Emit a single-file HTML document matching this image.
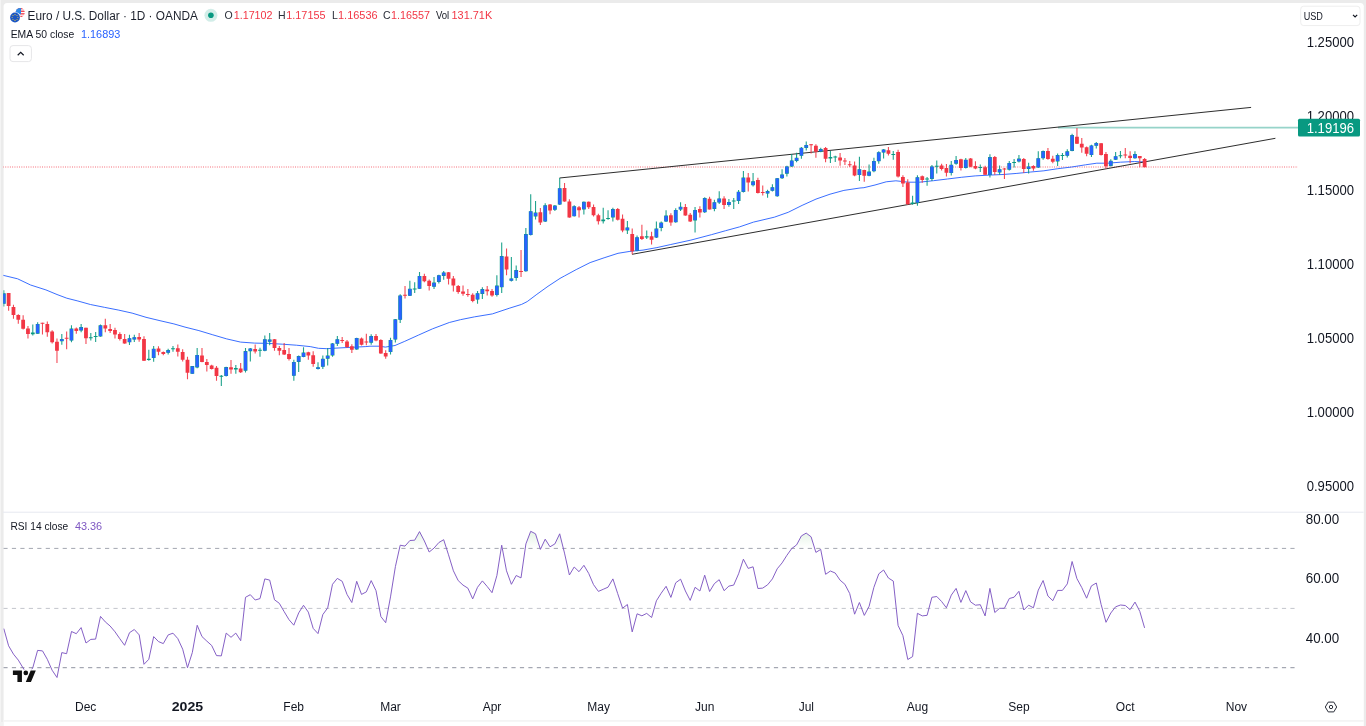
<!DOCTYPE html><html><head><meta charset="utf-8"><title>EURUSD chart</title>
<style>html,body{margin:0;padding:0;background:#ebebeb;overflow:hidden}svg{display:block}text{font-family:"Liberation Sans", Arial, sans-serif}</style>
</head><body>
<svg width="1366" height="726" viewBox="0 0 1366 726">
<rect width="1366" height="726" fill="#ebebeb"/>
<rect x="0" y="0" width="1" height="726" fill="#f4f4f4"/>
<rect x="0" y="722" width="3.6" height="4" fill="#f2f2f2"/>
<path d="M3.6 726V6.5a3.5 3.5 0 0 1 3.5-3.5H1360.3a3.5 3.5 0 0 1 3.5 3.5V726Z" fill="#fff"/>
<rect x="3.6" y="720" width="1360.2" height="1.8" fill="#f4f4f4"/>
<rect x="3" y="511.7" width="1360.5" height="1" fill="#e6e8f0"/>
<clipPath id="cp"><rect x="3.3" y="3" width="1295" height="700"/></clipPath>
<g clip-path="url(#cp)">
<line x1="3" y1="167" x2="1298" y2="167" stroke="#f23645" stroke-width="1" stroke-dasharray=".9 1.4" opacity=".8"/>
<line x1="1058" y1="127.7" x2="1298" y2="127.7" stroke="#089981" stroke-width="1.7" opacity=".42"/>
<polyline fill="none" stroke="#2962ff" stroke-width="1" opacity=".92" stroke-linejoin="round" points="3.1,275.3 17.6,278.8 30.6,285.0 45.9,289.9 57.0,294.5 66.8,298.2 77.9,301.0 90.4,304.5 104.3,307.3 118.2,310.0 132.1,313.1 146.0,317.3 160.0,320.7 173.9,323.9 185.0,327.1 198.9,330.6 212.8,334.8 226.7,338.9 240.6,342.1 254.5,343.1 268.5,343.4 282.4,344.2 296.3,345.2 310.2,346.6 318.5,348.3 326.9,348.7 338.0,348.0 351.9,347.3 365.8,346.6 370.0,346.2 379.7,346.2 385.3,347.1 395.0,345.5 404.8,341.3 418.7,335.0 432.6,328.8 449.3,322.5 460.4,319.7 474.3,316.9 492.4,313.9 509.1,308.3 521.6,304.4 527.2,301.6 536.9,294.3 548.0,286.3 560.0,278.4 564.4,276.0 576.2,269.6 590.1,262.6 604.1,257.8 618.0,253.3 629.1,251.5 643.0,250.1 656.9,247.6 670.8,244.5 690.9,240.1 711.7,234.6 725.6,230.7 739.5,226.9 753.5,222.1 774.3,217.2 788.2,212.3 802.1,205.4 816.0,199.1 830.0,194.2 843.9,190.4 860.0,188.0 863.9,187.7 875.0,185.0 886.2,181.8 895.9,180.8 908.4,182.2 919.5,182.2 933.5,180.7 947.4,179.0 961.3,177.3 975.2,175.9 989.1,175.1 1003.0,174.5 1016.9,173.4 1030.8,172.0 1043.9,170.8 1057.8,168.7 1071.7,167.0 1085.6,164.8 1096.8,163.2 1107.9,163.2 1120.4,162.2 1134.3,161.5 1144.6,162.0"/>
<line x1="559.5" y1="178" x2="1251.1" y2="107.4" stroke="#1a1a1a" stroke-width=".92"/>
<line x1="632.1" y1="254.3" x2="1275.4" y2="138.3" stroke="#1a1a1a" stroke-width=".92"/>
<path d="M8.63 293.1V310.7M13.47 304.8V318.8M18.30 314.2V323.7M23.14 315.3V329.5M27.97 326.0V338.6M42.47 322.8V334.4M47.31 321.4V336.7M52.14 330.2V343.4M56.97 338.6V362.9M66.64 331.6V349.3M76.31 327.4V333.7M85.98 327.8V344.1M105.31 318.8V332.3M110.15 323.9V333.0M114.98 327.8V338.6M119.82 332.3V340.6M124.65 334.0V343.7M139.15 333.0V341.7M143.99 336.2V361.1M158.49 346.2V355.2M163.32 351.5V355.2M177.82 344.5V356.6M182.66 349.3V361.5M187.49 356.7V379.3M201.99 348.0V362.3M206.83 359.1V371.6M211.66 364.7V369.5M216.50 366.1V380.7M231.00 360.1V373.7M240.67 362.9V373.0M255.17 344.5V353.6M274.50 338.9V350.8M279.34 345.9V355.2M284.17 343.1V354.9M289.01 348.0V360.5M308.34 351.7V359.8M313.18 351.2V366.8M342.18 336.9V343.1M347.01 340.1V348.0M351.85 344.2V352.9M361.52 337.6V345.6M366.35 333.8V345.2M376.02 334.0V341.3M380.85 339.2V353.8M385.69 350.3V358.7M405.02 285.9V298.4M424.36 273.8V282.2M429.19 279.4V290.5M448.53 272.0V284.5M453.36 275.9V291.5M458.20 285.0V293.7M463.03 285.4V295.8M467.86 289.1V296.8M472.70 293.3V302.3M487.20 285.9V295.4M492.03 289.1V296.8M506.54 248.4V275.2M521.04 250.1V277.0M540.37 208.1V225.1M550.04 203.9V214.2M564.54 183.1V201.7M569.38 199.3V217.8M579.05 205.9V217.4M588.71 201.4V209.1M593.55 204.6V216.4M598.38 213.7V224.4M617.72 208.0V220.6M622.55 214.6V232.3M632.22 228.6V254.3M641.89 224.8V240.1M651.56 231.7V244.5M670.89 213.3V225.8M685.39 204.0V215.8M690.23 213.0V222.1M699.90 206.3V217.6M709.56 196.7V209.5M724.07 196.3V208.9M748.24 173.0V191.5M757.90 177.8V193.6M762.74 185.5V195.6M811.08 143.9V153.5M815.91 144.2V157.8M825.58 147.0V162.3M840.08 152.9V165.7M844.92 158.1V165.0M849.75 160.9V167.1M854.58 161.6V176.2M864.25 169.7V181.8M888.42 147.0V155.6M898.09 149.8V177.6M902.92 175.2V187.0M907.76 179.3V204.7M922.26 175.5V182.7M941.60 163.7V170.6M946.43 164.0V176.5M960.93 158.8V170.6M970.60 158.1V167.2M975.43 161.3V169.2M985.10 165.8V175.1M994.77 156.0V174.8M1004.44 167.9V179.0M1023.77 158.1V173.1M1033.44 165.2V170.8M1047.94 147.9V159.7M1052.78 155.8V163.2M1076.95 128.0V144.0M1081.78 138.1V152.7M1086.62 146.5V156.2M1101.12 143.0V155.5M1105.95 152.0V168.7M1125.29 147.9V158.3M1130.12 151.3V163.2M1139.79 155.9V167.3M1144.62 158.0V167.3" stroke="#f23645" stroke-width="1.1" fill="none" opacity=".9"/>
<path d="M3.80 290.3V306.6M32.80 324.6V335.4M37.64 322.3V333.7M61.81 334.0V344.8M71.48 325.3V342.3M81.14 323.9V332.3M90.81 333.0V340.6M95.65 331.9V342.0M100.48 324.6V336.7M129.48 334.8V345.1M134.32 334.7V342.0M148.82 349.7V360.8M153.65 345.9V361.8M168.16 348.7V354.5M172.99 345.9V351.8M192.33 366.1V373.7M197.16 348.0V368.2M221.33 375.1V386.0M226.16 366.8V376.5M235.83 365.1V373.7M245.50 348.0V372.6M250.33 348.0V361.5M260.00 347.7V356.7M264.84 335.5V351.2M269.67 333.1V345.2M293.84 359.8V380.7M298.67 355.4V372.0M303.51 347.3V357.3M318.01 362.3V369.5M322.84 355.4V368.9M327.68 348.0V365.4M332.51 343.1V356.7M337.35 335.9V345.9M356.68 337.8V349.8M371.18 334.3V344.8M390.52 337.8V354.5M395.35 319.0V342.4M400.19 294.3V322.9M409.86 280.8V296.1M414.69 282.2V292.9M419.52 272.0V289.1M434.03 277.0V289.1M438.86 274.8V283.6M443.69 271.0V279.8M477.53 290.9V303.7M482.37 287.3V298.9M496.87 275.2V296.5M501.70 242.5V292.9M511.37 257.0V281.5M516.20 265.4V280.8M525.87 228.1V271.7M530.71 194.2V235.5M535.54 201.1V219.5M545.21 203.2V222.0M554.88 204.9V210.9M559.71 178.1V204.9M574.21 205.3V216.4M583.88 201.4V214.6M603.22 207.7V223.4M608.05 210.2V219.8M612.88 207.7V221.6M627.39 220.9V234.1M637.05 235.5V251.2M646.72 230.4V239.0M656.39 221.6V237.9M661.22 221.6V231.3M666.06 210.2V222.0M675.73 208.2V222.8M680.56 202.2V210.9M695.06 207.0V232.5M704.73 197.3V213.0M714.40 199.8V211.2M719.23 191.2V204.0M728.90 199.1V206.8M733.73 198.1V208.9M738.57 190.1V204.0M743.40 170.9V192.6M753.07 173.0V186.6M767.57 189.8V197.7M772.41 184.2V191.5M777.24 178.0V196.7M782.07 169.2V178.9M786.91 165.7V176.4M791.74 153.9V167.1M796.58 152.8V162.3M801.41 147.0V158.8M806.24 141.4V150.4M820.75 147.7V152.2M830.41 151.1V163.0M835.25 155.7V162.0M859.42 156.7V181.1M869.09 164.4V176.2M873.92 157.8V172.3M878.75 151.2V163.7M883.59 149.1V158.4M893.26 150.9V159.8M912.59 195.7V204.7M917.43 175.2V205.7M927.09 176.9V185.7M931.93 165.1V181.1M936.76 160.6V173.4M951.26 160.9V175.5M956.10 156.0V164.7M965.77 158.1V168.6M980.27 164.4V172.0M989.94 154.2V177.6M999.60 165.4V174.8M1009.27 160.9V170.6M1014.11 159.1V167.6M1018.94 155.1V162.6M1028.61 162.7V173.4M1038.28 151.3V168.0M1043.11 150.6V159.7M1057.61 153.4V165.9M1062.45 153.1V160.1M1067.28 149.2V157.6M1072.11 133.7V151.3M1091.45 144.8V156.9M1096.28 141.9V148.6M1110.79 159.3V166.6M1115.62 152.0V160.1M1120.45 150.9V158.3M1134.96 151.3V158.7" stroke="#089981" stroke-width="1.1" fill="none" opacity=".9"/>
<path d="M6.73 293.1h3.8V305.9h-3.8ZM11.57 307.0h3.8V314.9h-3.8ZM16.40 314.9h3.8V319.8h-3.8ZM21.24 319.8h3.8V328.8h-3.8ZM26.07 328.5h3.8V334.0h-3.8ZM40.57 322.8h3.8V323.8h-3.8ZM45.41 323.9h3.8V332.3h-3.8ZM50.24 331.6h3.8V342.3h-3.8ZM55.07 341.7h3.8V350.7h-3.8ZM64.74 337.8h3.8V338.8h-3.8ZM74.41 328.4h3.8V330.9h-3.8ZM84.08 327.8h3.8V338.3h-3.8ZM103.41 325.3h3.8V328.4h-3.8ZM108.25 329.1h3.8V330.9h-3.8ZM113.08 329.9h3.8V334.4h-3.8ZM117.92 334.0h3.8V339.0h-3.8ZM122.75 339.0h3.8V343.4h-3.8ZM137.25 336.9h3.8V339.5h-3.8ZM142.09 339.0h3.8V360.8h-3.8ZM156.59 348.6h3.8V351.8h-3.8ZM161.42 352.0h3.8V353.9h-3.8ZM175.92 348.3h3.8V351.8h-3.8ZM180.76 352.0h3.8V359.8h-3.8ZM185.59 359.8h3.8V372.7h-3.8ZM200.09 355.4h3.8V361.9h-3.8ZM204.93 361.9h3.8V365.1h-3.8ZM209.76 365.4h3.8V368.9h-3.8ZM214.60 367.7h3.8V376.1h-3.8ZM229.10 367.2h3.8V369.5h-3.8ZM238.77 368.4h3.8V372.3h-3.8ZM253.27 349.0h3.8V351.5h-3.8ZM272.60 339.2h3.8V348.0h-3.8ZM277.44 348.0h3.8V350.8h-3.8ZM282.27 350.1h3.8V354.5h-3.8ZM287.11 354.0h3.8V359.1h-3.8ZM306.44 352.2h3.8V355.6h-3.8ZM311.28 355.2h3.8V364.0h-3.8ZM340.28 340.0h3.8V341.0h-3.8ZM345.11 341.4h3.8V347.0h-3.8ZM349.95 346.3h3.8V349.8h-3.8ZM359.62 338.5h3.8V344.8h-3.8ZM364.45 341.6h3.8V342.6h-3.8ZM374.12 336.0h3.8V340.6h-3.8ZM378.95 339.9h3.8V353.5h-3.8ZM383.79 353.1h3.8V356.6h-3.8ZM403.12 294.7h3.8V295.8h-3.8ZM422.46 275.9h3.8V281.2h-3.8ZM427.29 280.8h3.8V285.9h-3.8ZM446.63 272.2h3.8V278.7h-3.8ZM451.46 278.4h3.8V285.6h-3.8ZM456.30 285.9h3.8V291.9h-3.8ZM461.13 291.6h3.8V293.7h-3.8ZM465.96 294.0h3.8V295.1h-3.8ZM470.80 294.7h3.8V300.9h-3.8ZM485.30 289.5h3.8V291.2h-3.8ZM490.13 290.9h3.8V295.4h-3.8ZM504.64 256.4h3.8V269.6h-3.8ZM519.14 271.0h3.8V272.0h-3.8ZM538.47 212.3h3.8V222.6h-3.8ZM548.14 204.6h3.8V210.5h-3.8ZM562.64 187.9h3.8V201.4h-3.8ZM567.48 201.4h3.8V217.4h-3.8ZM577.15 207.3h3.8V210.2h-3.8ZM586.81 201.8h3.8V207.3h-3.8ZM591.65 207.0h3.8V215.3h-3.8ZM596.48 215.3h3.8V221.3h-3.8ZM615.82 209.1h3.8V219.8h-3.8ZM620.65 218.8h3.8V230.6h-3.8ZM630.32 234.1h3.8V251.2h-3.8ZM639.99 236.2h3.8V239.0h-3.8ZM649.66 236.2h3.8V239.7h-3.8ZM668.99 215.3h3.8V222.6h-3.8ZM683.49 207.0h3.8V215.5h-3.8ZM688.33 214.8h3.8V221.4h-3.8ZM698.00 209.1h3.8V212.6h-3.8ZM707.66 198.8h3.8V209.5h-3.8ZM722.17 198.4h3.8V205.1h-3.8ZM746.34 177.6h3.8V182.4h-3.8ZM756.00 180.1h3.8V192.9h-3.8ZM760.84 191.9h3.8V192.9h-3.8ZM809.18 144.3h3.8V145.3h-3.8ZM814.01 145.8h3.8V151.8h-3.8ZM823.68 147.9h3.8V158.8h-3.8ZM838.18 157.4h3.8V160.4h-3.8ZM843.02 160.6h3.8V161.6h-3.8ZM847.85 164.3h3.8V165.3h-3.8ZM852.68 165.4h3.8V175.5h-3.8ZM862.35 169.9h3.8V175.8h-3.8ZM886.52 150.2h3.8V153.7h-3.8ZM896.19 151.9h3.8V176.6h-3.8ZM901.02 176.9h3.8V183.4h-3.8ZM905.86 182.5h3.8V204.3h-3.8ZM920.36 176.2h3.8V180.1h-3.8ZM939.70 165.4h3.8V169.0h-3.8ZM944.53 167.9h3.8V172.7h-3.8ZM959.03 159.2h3.8V168.1h-3.8ZM968.70 158.4h3.8V166.7h-3.8ZM973.53 166.0h3.8V168.6h-3.8ZM983.20 167.2h3.8V174.8h-3.8ZM992.87 157.0h3.8V172.0h-3.8ZM1002.54 168.5h3.8V169.5h-3.8ZM1021.87 159.1h3.8V169.0h-3.8ZM1031.54 165.9h3.8V168.4h-3.8ZM1046.04 151.1h3.8V159.0h-3.8ZM1050.88 158.7h3.8V161.8h-3.8ZM1075.05 136.7h3.8V143.7h-3.8ZM1079.88 143.7h3.8V147.6h-3.8ZM1084.72 147.2h3.8V153.7h-3.8ZM1099.22 143.3h3.8V155.1h-3.8ZM1104.05 154.1h3.8V166.2h-3.8ZM1123.39 154.4h3.8V155.4h-3.8ZM1128.22 155.8h3.8V157.9h-3.8ZM1137.89 155.9h3.8V158.3h-3.8ZM1142.72 159.0h3.8V167.3h-3.8Z" fill="#f23645"/>
<path d="M1.90 293.3h3.8V303.8h-3.8ZM30.90 332.6h3.8V334.2h-3.8ZM35.74 323.9h3.8V333.7h-3.8ZM59.91 339.0h3.8V341.3h-3.8ZM69.58 328.5h3.8V340.6h-3.8ZM79.24 327.0h3.8V330.6h-3.8ZM88.91 337.2h3.8V338.3h-3.8ZM93.75 336.1h3.8V337.1h-3.8ZM98.58 325.3h3.8V336.5h-3.8ZM127.58 338.3h3.8V342.3h-3.8ZM132.42 337.2h3.8V339.5h-3.8ZM146.92 358.7h3.8V360.1h-3.8ZM151.75 348.7h3.8V358.0h-3.8ZM166.26 350.1h3.8V352.7h-3.8ZM171.09 348.3h3.8V349.3h-3.8ZM190.43 366.1h3.8V373.7h-3.8ZM195.26 354.9h3.8V367.5h-3.8ZM219.43 375.8h3.8V376.8h-3.8ZM224.26 367.0h3.8V376.1h-3.8ZM233.93 367.9h3.8V369.5h-3.8ZM243.60 351.0h3.8V370.7h-3.8ZM248.43 348.4h3.8V351.2h-3.8ZM258.10 349.7h3.8V350.7h-3.8ZM262.94 339.2h3.8V350.8h-3.8ZM267.77 339.4h3.8V341.7h-3.8ZM291.94 361.9h3.8V375.8h-3.8ZM296.77 356.1h3.8V361.9h-3.8ZM301.61 352.6h3.8V357.0h-3.8ZM316.11 367.2h3.8V369.1h-3.8ZM320.94 358.7h3.8V366.8h-3.8ZM325.78 355.6h3.8V358.7h-3.8ZM330.61 343.4h3.8V355.4h-3.8ZM335.45 339.2h3.8V343.8h-3.8ZM354.78 338.0h3.8V349.4h-3.8ZM369.28 336.1h3.8V342.7h-3.8ZM388.62 339.9h3.8V352.1h-3.8ZM393.45 319.3h3.8V339.6h-3.8ZM398.29 295.4h3.8V319.7h-3.8ZM407.96 288.7h3.8V295.8h-3.8ZM412.79 288.4h3.8V289.4h-3.8ZM417.62 275.9h3.8V288.7h-3.8ZM432.13 282.6h3.8V286.8h-3.8ZM436.96 275.2h3.8V281.9h-3.8ZM441.79 272.4h3.8V275.9h-3.8ZM475.63 293.3h3.8V299.6h-3.8ZM480.47 289.1h3.8V294.0h-3.8ZM494.97 285.6h3.8V295.1h-3.8ZM499.80 256.0h3.8V287.3h-3.8ZM509.47 278.4h3.8V280.8h-3.8ZM514.30 270.0h3.8V278.0h-3.8ZM523.97 234.1h3.8V271.3h-3.8ZM528.81 211.2h3.8V235.1h-3.8ZM533.64 212.6h3.8V216.4h-3.8ZM543.31 205.3h3.8V221.6h-3.8ZM552.98 205.6h3.8V209.8h-3.8ZM557.81 188.2h3.8V204.6h-3.8ZM572.31 206.3h3.8V216.3h-3.8ZM581.98 201.8h3.8V209.4h-3.8ZM601.32 219.5h3.8V221.2h-3.8ZM606.15 218.0h3.8V219.0h-3.8ZM610.98 209.1h3.8V217.4h-3.8ZM625.49 227.4h3.8V230.4h-3.8ZM635.15 237.2h3.8V250.8h-3.8ZM644.82 236.2h3.8V237.6h-3.8ZM654.49 228.6h3.8V237.6h-3.8ZM659.32 222.6h3.8V227.9h-3.8ZM664.16 215.6h3.8V221.6h-3.8ZM673.83 210.0h3.8V222.3h-3.8ZM678.66 206.8h3.8V209.5h-3.8ZM693.16 210.0h3.8V220.4h-3.8ZM702.83 198.1h3.8V212.3h-3.8ZM712.50 202.2h3.8V208.9h-3.8ZM717.33 198.4h3.8V202.6h-3.8ZM727.00 201.9h3.8V205.1h-3.8ZM731.83 200.4h3.8V201.4h-3.8ZM736.67 191.7h3.8V200.9h-3.8ZM741.50 177.6h3.8V191.9h-3.8ZM751.17 181.3h3.8V185.2h-3.8ZM765.67 191.0h3.8V193.6h-3.8ZM770.51 187.3h3.8V190.8h-3.8ZM775.34 178.3h3.8V196.3h-3.8ZM780.17 174.4h3.8V178.3h-3.8ZM785.01 166.4h3.8V173.7h-3.8ZM789.84 160.4h3.8V166.4h-3.8ZM794.68 157.7h3.8V160.9h-3.8ZM799.51 147.7h3.8V155.7h-3.8ZM804.34 144.9h3.8V147.9h-3.8ZM818.85 149.0h3.8V151.5h-3.8ZM828.51 157.1h3.8V158.5h-3.8ZM833.35 156.5h3.8V157.5h-3.8ZM857.52 169.2h3.8V175.1h-3.8ZM867.19 171.6h3.8V175.8h-3.8ZM872.02 160.9h3.8V171.3h-3.8ZM876.85 152.3h3.8V161.3h-3.8ZM881.69 149.4h3.8V152.6h-3.8ZM891.36 153.9h3.8V154.9h-3.8ZM910.69 202.6h3.8V204.0h-3.8ZM915.53 177.2h3.8V202.9h-3.8ZM925.19 178.5h3.8V179.5h-3.8ZM930.03 166.5h3.8V179.0h-3.8ZM934.86 165.8h3.8V166.8h-3.8ZM949.36 164.7h3.8V173.0h-3.8ZM954.20 159.9h3.8V163.7h-3.8ZM963.87 159.8h3.8V167.9h-3.8ZM978.37 167.1h3.8V168.1h-3.8ZM988.04 157.1h3.8V175.1h-3.8ZM997.70 169.2h3.8V172.4h-3.8ZM1007.37 163.0h3.8V169.7h-3.8ZM1012.21 161.9h3.8V162.9h-3.8ZM1017.04 158.5h3.8V161.6h-3.8ZM1026.71 166.5h3.8V169.0h-3.8ZM1036.38 158.3h3.8V167.6h-3.8ZM1041.21 151.1h3.8V158.3h-3.8ZM1055.71 155.1h3.8V161.5h-3.8ZM1060.55 155.1h3.8V156.1h-3.8ZM1065.38 151.3h3.8V155.8h-3.8ZM1070.21 135.1h3.8V150.9h-3.8ZM1089.55 145.4h3.8V155.1h-3.8ZM1094.38 143.0h3.8V145.8h-3.8ZM1108.89 160.8h3.8V165.9h-3.8ZM1113.72 156.2h3.8V159.7h-3.8ZM1118.55 155.2h3.8V156.3h-3.8ZM1133.06 154.1h3.8V158.3h-3.8Z" fill="#089981"/>
<path d="M2.25 293.7h3.1V303.4h-3.1ZM36.09 324.3h3.1V333.3h-3.1ZM60.26 339.3h3.1V341.0h-3.1ZM69.93 328.9h3.1V340.3h-3.1ZM79.59 327.4h3.1V330.3h-3.1ZM98.93 325.7h3.1V336.1h-3.1ZM127.93 338.6h3.1V342.0h-3.1ZM132.77 337.5h3.1V339.2h-3.1ZM152.10 349.1h3.1V357.7h-3.1ZM166.61 350.4h3.1V352.4h-3.1ZM190.78 366.4h3.1V373.4h-3.1ZM195.61 355.3h3.1V367.1h-3.1ZM224.61 367.4h3.1V375.7h-3.1ZM243.95 351.4h3.1V370.3h-3.1ZM248.78 348.8h3.1V350.8h-3.1ZM263.29 339.6h3.1V350.4h-3.1ZM268.12 339.7h3.1V341.4h-3.1ZM292.29 362.2h3.1V375.5h-3.1ZM297.12 356.4h3.1V361.5h-3.1ZM301.96 352.9h3.1V356.7h-3.1ZM316.46 367.5h3.1V368.8h-3.1ZM321.29 359.0h3.1V366.4h-3.1ZM326.13 356.0h3.1V358.3h-3.1ZM330.96 343.7h3.1V355.0h-3.1ZM335.80 339.6h3.1V343.5h-3.1ZM355.13 338.3h3.1V349.0h-3.1ZM369.63 336.5h3.1V342.3h-3.1ZM388.97 340.2h3.1V351.8h-3.1ZM393.80 319.7h3.1V339.3h-3.1ZM398.64 295.7h3.1V319.4h-3.1ZM408.31 289.1h3.1V295.4h-3.1ZM417.97 276.3h3.1V288.4h-3.1ZM432.48 282.9h3.1V286.4h-3.1ZM437.31 275.6h3.1V281.5h-3.1ZM442.14 272.8h3.1V275.6h-3.1ZM475.98 293.6h3.1V299.2h-3.1ZM480.82 289.5h3.1V293.6h-3.1ZM495.32 286.0h3.1V294.8h-3.1ZM500.15 256.4h3.1V286.9h-3.1ZM509.82 278.8h3.1V280.4h-3.1ZM514.65 270.4h3.1V277.6h-3.1ZM524.32 234.5h3.1V270.9h-3.1ZM529.16 211.5h3.1V234.7h-3.1ZM533.99 212.9h3.1V216.1h-3.1ZM543.66 205.7h3.1V221.2h-3.1ZM553.33 206.0h3.1V209.4h-3.1ZM558.16 188.6h3.1V204.3h-3.1ZM572.66 206.6h3.1V216.0h-3.1ZM582.33 202.2h3.1V209.0h-3.1ZM611.33 209.4h3.1V217.1h-3.1ZM625.84 227.8h3.1V230.0h-3.1ZM635.50 237.5h3.1V250.5h-3.1ZM654.84 228.9h3.1V237.2h-3.1ZM659.67 222.9h3.1V227.5h-3.1ZM664.51 216.0h3.1V221.2h-3.1ZM674.18 210.3h3.1V222.0h-3.1ZM679.01 207.1h3.1V209.2h-3.1ZM693.51 210.3h3.1V220.0h-3.1ZM703.18 198.5h3.1V212.0h-3.1ZM712.85 202.5h3.1V208.5h-3.1ZM717.68 198.8h3.1V202.2h-3.1ZM727.35 202.2h3.1V204.7h-3.1ZM737.02 192.1h3.1V200.6h-3.1ZM741.85 177.9h3.1V191.5h-3.1ZM751.52 181.7h3.1V184.9h-3.1ZM766.02 191.4h3.1V193.2h-3.1ZM770.86 187.6h3.1V190.4h-3.1ZM775.69 178.6h3.1V196.0h-3.1ZM780.52 174.7h3.1V177.9h-3.1ZM785.36 166.8h3.1V173.3h-3.1ZM790.19 160.8h3.1V166.1h-3.1ZM795.03 158.0h3.1V160.5h-3.1ZM799.86 148.0h3.1V155.4h-3.1ZM804.69 145.2h3.1V147.6h-3.1ZM819.20 149.4h3.1V151.2h-3.1ZM857.87 169.6h3.1V174.7h-3.1ZM867.54 172.0h3.1V175.4h-3.1ZM872.37 161.3h3.1V171.0h-3.1ZM877.20 152.6h3.1V161.0h-3.1ZM882.04 149.7h3.1V152.2h-3.1ZM915.88 177.5h3.1V202.6h-3.1ZM930.38 166.8h3.1V178.6h-3.1ZM949.71 165.0h3.1V172.7h-3.1ZM954.55 160.3h3.1V163.3h-3.1ZM964.22 160.1h3.1V167.5h-3.1ZM988.39 157.5h3.1V174.7h-3.1ZM998.05 169.6h3.1V172.1h-3.1ZM1007.72 163.3h3.1V169.3h-3.1ZM1017.39 158.9h3.1V161.2h-3.1ZM1027.06 166.8h3.1V168.6h-3.1ZM1036.73 158.6h3.1V167.3h-3.1ZM1041.56 151.4h3.1V157.9h-3.1ZM1056.06 155.4h3.1V161.1h-3.1ZM1065.73 151.7h3.1V155.4h-3.1ZM1070.56 135.4h3.1V150.6h-3.1ZM1089.90 145.7h3.1V154.7h-3.1ZM1094.73 143.3h3.1V145.4h-3.1ZM1109.24 161.1h3.1V165.6h-3.1ZM1114.07 156.6h3.1V159.3h-3.1ZM1133.41 154.5h3.1V157.9h-3.1Z" fill="#2962ff"/>
<line x1="3.4" y1="548.4" x2="1295" y2="548.4" stroke="#a3a6b0" stroke-width="1" stroke-dasharray="4.2 4.267"/>
<line x1="3.4" y1="608.4" x2="1295" y2="608.4" stroke="#c3c5cc" stroke-width="1" stroke-dasharray="4.2 4.267"/>
<line x1="3.4" y1="667.7" x2="1295" y2="667.7" stroke="#8f93a0" stroke-width="1" stroke-dasharray="4.2 4.267"/>
<clipPath id="ob"><rect x="0" y="512" width="1298" height="36.4"/></clipPath>
<linearGradient id="og" x1="0" y1="525" x2="0" y2="548.4" gradientUnits="userSpaceOnUse"><stop offset="0" stop-color="#4caf50" stop-opacity=".2"/><stop offset="1" stop-color="#4caf50" stop-opacity="0"/></linearGradient>
<polygon clip-path="url(#ob)" fill="url(#og)" points="3.8,628.6 8.6,645.8 13.5,654.2 18.3,660.1 23.1,668.0 28.0,674.9 32.8,667.7 37.6,650.4 42.5,650.9 47.3,659.3 52.1,670.2 57.0,677.5 61.8,652.6 66.6,653.7 71.5,631.5 76.3,633.7 81.1,627.6 86.0,643.0 90.8,639.4 95.6,639.1 100.5,616.4 105.3,621.9 110.1,626.0 115.0,631.8 119.8,638.7 124.6,645.3 129.5,632.7 134.3,629.5 139.2,634.9 144.0,664.3 148.8,659.3 153.7,636.6 158.5,641.6 163.3,643.6 168.2,634.9 173.0,633.2 177.8,638.6 182.7,649.2 187.5,667.7 192.3,652.6 197.2,625.3 202.0,636.6 206.8,641.1 211.7,645.5 216.5,655.6 221.3,655.9 226.2,633.1 231.0,637.3 235.8,633.1 240.7,640.7 245.5,597.3 250.3,594.7 255.2,600.0 260.0,598.6 264.8,578.9 269.7,580.1 274.5,599.8 279.3,603.3 284.2,611.7 289.0,619.7 293.8,625.2 298.7,612.9 303.5,605.3 308.3,612.1 313.2,628.4 318.0,633.6 322.8,614.6 327.7,607.9 332.5,584.3 337.3,578.4 342.2,581.3 347.0,594.4 351.8,602.5 356.7,581.3 361.5,594.4 366.3,591.9 371.2,580.6 376.0,590.7 380.9,616.6 385.7,622.7 390.5,596.9 395.4,566.6 400.2,545.2 405.0,546.1 409.9,540.5 414.7,540.2 419.5,531.6 424.4,541.0 429.2,552.0 434.0,548.1 438.9,542.5 443.7,539.7 448.5,554.8 453.4,570.8 458.2,580.6 463.0,585.1 467.9,588.2 472.7,598.9 477.5,587.3 482.4,580.9 487.2,586.5 492.0,592.7 496.9,575.5 501.7,545.2 506.5,570.8 511.4,584.3 516.2,575.5 521.0,577.9 525.9,543.9 530.7,531.3 535.5,533.8 540.4,549.4 545.2,539.2 550.0,546.8 554.9,543.9 559.7,533.8 564.5,553.1 569.4,575.0 574.2,567.0 579.0,571.7 583.9,565.3 588.7,573.4 593.5,584.6 598.4,591.4 603.2,589.3 608.0,587.2 612.9,578.9 617.7,593.6 622.6,608.2 627.4,604.5 632.2,631.9 637.1,613.8 641.9,615.8 646.7,613.4 651.6,617.5 656.4,600.8 661.2,593.2 666.1,586.3 670.9,597.4 675.7,582.8 680.6,579.2 685.4,591.0 690.2,600.4 695.1,587.3 699.9,591.0 704.7,575.2 709.6,591.5 714.4,583.6 719.2,579.7 724.1,590.7 728.9,586.1 733.7,585.1 738.6,573.8 743.4,559.2 748.2,568.4 753.1,566.8 757.9,588.5 762.7,588.1 767.6,584.8 772.4,578.9 777.2,568.8 782.1,562.9 786.9,555.3 791.7,548.6 796.6,544.9 801.4,535.9 806.2,533.1 811.1,536.8 815.9,552.4 820.7,549.4 825.6,574.3 830.4,571.0 835.2,573.0 840.1,580.2 844.9,584.3 849.7,593.5 854.6,614.2 859.4,602.5 864.3,615.4 869.1,606.3 873.9,587.3 878.8,573.8 883.6,570.0 888.4,578.0 893.3,581.1 898.1,625.5 902.9,635.6 907.8,659.5 912.6,656.6 917.4,613.3 922.3,615.9 927.1,615.3 931.9,597.3 936.8,596.5 941.6,601.5 946.4,607.8 951.3,595.1 956.1,588.4 960.9,602.4 965.8,590.6 970.6,601.9 975.4,605.2 980.3,604.7 985.1,615.9 989.9,588.4 994.8,612.5 999.6,608.3 1004.4,608.3 1009.3,598.5 1014.1,597.2 1018.9,591.3 1023.8,610.0 1028.6,605.2 1033.4,607.8 1038.3,590.1 1043.1,580.5 1047.9,596.0 1052.8,600.7 1057.6,590.4 1062.4,590.4 1067.3,583.9 1072.1,561.5 1076.9,578.6 1081.8,587.6 1086.6,598.2 1091.4,585.9 1096.3,583.0 1101.1,604.4 1106.0,622.3 1110.8,613.0 1115.6,606.8 1120.5,605.0 1125.3,605.5 1130.1,609.7 1135.0,602.1 1139.8,611.4 1144.6,627.9 1144.6,548.4 3.8,548.4"/>
<polyline fill="none" stroke="#7e57c2" stroke-width=".95" stroke-linejoin="round" points="3.8,628.6 8.6,645.8 13.5,654.2 18.3,660.1 23.1,668.0 28.0,674.9 32.8,667.7 37.6,650.4 42.5,650.9 47.3,659.3 52.1,670.2 57.0,677.5 61.8,652.6 66.6,653.7 71.5,631.5 76.3,633.7 81.1,627.6 86.0,643.0 90.8,639.4 95.6,639.1 100.5,616.4 105.3,621.9 110.1,626.0 115.0,631.8 119.8,638.7 124.6,645.3 129.5,632.7 134.3,629.5 139.2,634.9 144.0,664.3 148.8,659.3 153.7,636.6 158.5,641.6 163.3,643.6 168.2,634.9 173.0,633.2 177.8,638.6 182.7,649.2 187.5,667.7 192.3,652.6 197.2,625.3 202.0,636.6 206.8,641.1 211.7,645.5 216.5,655.6 221.3,655.9 226.2,633.1 231.0,637.3 235.8,633.1 240.7,640.7 245.5,597.3 250.3,594.7 255.2,600.0 260.0,598.6 264.8,578.9 269.7,580.1 274.5,599.8 279.3,603.3 284.2,611.7 289.0,619.7 293.8,625.2 298.7,612.9 303.5,605.3 308.3,612.1 313.2,628.4 318.0,633.6 322.8,614.6 327.7,607.9 332.5,584.3 337.3,578.4 342.2,581.3 347.0,594.4 351.8,602.5 356.7,581.3 361.5,594.4 366.3,591.9 371.2,580.6 376.0,590.7 380.9,616.6 385.7,622.7 390.5,596.9 395.4,566.6 400.2,545.2 405.0,546.1 409.9,540.5 414.7,540.2 419.5,531.6 424.4,541.0 429.2,552.0 434.0,548.1 438.9,542.5 443.7,539.7 448.5,554.8 453.4,570.8 458.2,580.6 463.0,585.1 467.9,588.2 472.7,598.9 477.5,587.3 482.4,580.9 487.2,586.5 492.0,592.7 496.9,575.5 501.7,545.2 506.5,570.8 511.4,584.3 516.2,575.5 521.0,577.9 525.9,543.9 530.7,531.3 535.5,533.8 540.4,549.4 545.2,539.2 550.0,546.8 554.9,543.9 559.7,533.8 564.5,553.1 569.4,575.0 574.2,567.0 579.0,571.7 583.9,565.3 588.7,573.4 593.5,584.6 598.4,591.4 603.2,589.3 608.0,587.2 612.9,578.9 617.7,593.6 622.6,608.2 627.4,604.5 632.2,631.9 637.1,613.8 641.9,615.8 646.7,613.4 651.6,617.5 656.4,600.8 661.2,593.2 666.1,586.3 670.9,597.4 675.7,582.8 680.6,579.2 685.4,591.0 690.2,600.4 695.1,587.3 699.9,591.0 704.7,575.2 709.6,591.5 714.4,583.6 719.2,579.7 724.1,590.7 728.9,586.1 733.7,585.1 738.6,573.8 743.4,559.2 748.2,568.4 753.1,566.8 757.9,588.5 762.7,588.1 767.6,584.8 772.4,578.9 777.2,568.8 782.1,562.9 786.9,555.3 791.7,548.6 796.6,544.9 801.4,535.9 806.2,533.1 811.1,536.8 815.9,552.4 820.7,549.4 825.6,574.3 830.4,571.0 835.2,573.0 840.1,580.2 844.9,584.3 849.7,593.5 854.6,614.2 859.4,602.5 864.3,615.4 869.1,606.3 873.9,587.3 878.8,573.8 883.6,570.0 888.4,578.0 893.3,581.1 898.1,625.5 902.9,635.6 907.8,659.5 912.6,656.6 917.4,613.3 922.3,615.9 927.1,615.3 931.9,597.3 936.8,596.5 941.6,601.5 946.4,607.8 951.3,595.1 956.1,588.4 960.9,602.4 965.8,590.6 970.6,601.9 975.4,605.2 980.3,604.7 985.1,615.9 989.9,588.4 994.8,612.5 999.6,608.3 1004.4,608.3 1009.3,598.5 1014.1,597.2 1018.9,591.3 1023.8,610.0 1028.6,605.2 1033.4,607.8 1038.3,590.1 1043.1,580.5 1047.9,596.0 1052.8,600.7 1057.6,590.4 1062.4,590.4 1067.3,583.9 1072.1,561.5 1076.9,578.6 1081.8,587.6 1086.6,598.2 1091.4,585.9 1096.3,583.0 1101.1,604.4 1106.0,622.3 1110.8,613.0 1115.6,606.8 1120.5,605.0 1125.3,605.5 1130.1,609.7 1135.0,602.1 1139.8,611.4 1144.6,627.9"/>
</g>
<g transform="translate(12.9,670.6) scale(0.645)" fill="#fff" stroke="#fff" stroke-width="4" stroke-linejoin="round"><path d="M14 17.6H7V7H0V0h14zM28 17.6h-8L27.5 0h8z"/><circle cx="20" cy="3.6" r="3.6"/></g>
<g transform="translate(12.9,670.6) scale(0.645)" fill="#111"><path d="M14 17.6H7V7H0V0h14zM28 17.6h-8L27.5 0h8z"/><circle cx="20" cy="3.6" r="3.6"/></g>
<text x="1306.7" y="46.5" font-size="14" fill="#131722" text-anchor="start" textLength="47.3" lengthAdjust="spacingAndGlyphs">1.25000</text>
<text x="1306.7" y="121.0" font-size="14" fill="#131722" text-anchor="start" textLength="47.3" lengthAdjust="spacingAndGlyphs">1.20000</text>
<text x="1306.7" y="195.0" font-size="14" fill="#131722" text-anchor="start" textLength="47.3" lengthAdjust="spacingAndGlyphs">1.15000</text>
<text x="1306.7" y="269.0" font-size="14" fill="#131722" text-anchor="start" textLength="47.3" lengthAdjust="spacingAndGlyphs">1.10000</text>
<text x="1306.7" y="343.0" font-size="14" fill="#131722" text-anchor="start" textLength="47.3" lengthAdjust="spacingAndGlyphs">1.05000</text>
<text x="1306.7" y="417.0" font-size="14" fill="#131722" text-anchor="start" textLength="47.3" lengthAdjust="spacingAndGlyphs">1.00000</text>
<text x="1306.7" y="491.0" font-size="14" fill="#131722" text-anchor="start" textLength="47.3" lengthAdjust="spacingAndGlyphs">0.95000</text>
<text x="1305.7" y="523.7" font-size="14" fill="#131722" text-anchor="start" textLength="33.5" lengthAdjust="spacingAndGlyphs">80.00</text>
<text x="1305.7" y="583.2" font-size="14" fill="#131722" text-anchor="start" textLength="33.5" lengthAdjust="spacingAndGlyphs">60.00</text>
<text x="1305.7" y="642.7" font-size="14" fill="#131722" text-anchor="start" textLength="33.5" lengthAdjust="spacingAndGlyphs">40.00</text>
<rect x="1298" y="118.8" width="62" height="17.8" rx="1.5" fill="#089981"/>
<text x="1306.7" y="132.7" font-size="14" fill="#fff" text-anchor="start" textLength="47.3" lengthAdjust="spacingAndGlyphs">1.19196</text>
<rect x="1300.7" y="6.2" width="59.3" height="19.4" rx="3" fill="#fff" stroke="#eeeeee" stroke-width="1"/>
<text x="1303.7" y="19.8" font-size="10" fill="#131722" text-anchor="start" textLength="19.2" lengthAdjust="spacingAndGlyphs">USD</text>
<path d="M1353 14.8l2.1 2.1 2.1-2.1" fill="none" stroke="#131722" stroke-width="1.2"/>
<text x="85.7" y="710.6" font-size="12" fill="#131722" text-anchor="middle">Dec</text>
<text x="187.5" y="710.6" font-size="12" fill="#131722" text-anchor="middle" font-weight="bold" textLength="31.5" lengthAdjust="spacingAndGlyphs">2025</text>
<text x="293.7" y="710.6" font-size="12" fill="#131722" text-anchor="middle">Feb</text>
<text x="390.5" y="710.6" font-size="12" fill="#131722" text-anchor="middle">Mar</text>
<text x="492.0" y="710.6" font-size="12" fill="#131722" text-anchor="middle">Apr</text>
<text x="598.7" y="710.6" font-size="12" fill="#131722" text-anchor="middle">May</text>
<text x="704.8" y="710.6" font-size="12" fill="#131722" text-anchor="middle">Jun</text>
<text x="806.3" y="710.6" font-size="12" fill="#131722" text-anchor="middle">Jul</text>
<text x="917.4" y="710.6" font-size="12" fill="#131722" text-anchor="middle">Aug</text>
<text x="1018.9" y="710.6" font-size="12" fill="#131722" text-anchor="middle">Sep</text>
<text x="1125.2" y="710.6" font-size="12" fill="#131722" text-anchor="middle">Oct</text>
<text x="1236.4" y="710.6" font-size="12" fill="#131722" text-anchor="middle">Nov</text>
<g transform="translate(1331,707)" fill="none" stroke="#2a2e39" stroke-width="1"><path d="M-2.8 -4.9h5.6l2.9 4.9l-2.9 4.9h-5.6l-2.9-4.9z"/><circle r="1.7"/></g>
<g><clipPath id="us"><circle cx="20.2" cy="12.6" r="4.6"/></clipPath><g clip-path="url(#us)"><rect x="15" y="7" width="11" height="11" fill="#fff"/><rect x="15" y="8" width="11" height="1.3" fill="#f23645"/><rect x="15" y="10.6" width="11" height="1.3" fill="#f23645"/><rect x="15" y="13.2" width="11" height="1.3" fill="#f23645"/><rect x="15" y="15.8" width="11" height="1.3" fill="#f23645"/><rect x="15" y="7" width="6" height="7.2" fill="#2f8be8"/></g>
<circle cx="15" cy="17.5" r="5.6" fill="#fff"/><circle cx="15" cy="17.5" r="4.9" fill="#1c57c4"/>
<circle cx="17.90" cy="17.50" r=".55" fill="#e8c840"/>
<circle cx="17.05" cy="19.55" r=".55" fill="#e8c840"/>
<circle cx="15.00" cy="20.40" r=".55" fill="#e8c840"/>
<circle cx="12.95" cy="19.55" r=".55" fill="#e8c840"/>
<circle cx="12.10" cy="17.50" r=".55" fill="#e8c840"/>
<circle cx="12.95" cy="15.45" r=".55" fill="#e8c840"/>
<circle cx="15.00" cy="14.60" r=".55" fill="#e8c840"/>
<circle cx="17.05" cy="15.45" r=".55" fill="#e8c840"/>
</g>
<text x="27.6" y="20.2" font-size="12.5" fill="#1c202b" text-anchor="start" textLength="170.3" lengthAdjust="spacingAndGlyphs">Euro / U.S. Dollar · 1D · OANDA</text>
<circle cx="210.9" cy="15.3" r="6.5" fill="#089981" opacity=".18"/><circle cx="210.9" cy="15.3" r="2.8" fill="#089981"/>
<text x="224.6" y="19.1" font-size="10.5" fill="#2a2e39" text-anchor="start">O</text>
<text x="233.7" y="19.1" font-size="10.5" fill="#f23645" text-anchor="start" textLength="38.9" lengthAdjust="spacingAndGlyphs">1.17102</text>
<text x="277.9" y="19.1" font-size="10.5" fill="#2a2e39" text-anchor="start">H</text>
<text x="286.3" y="19.1" font-size="10.5" fill="#f23645" text-anchor="start" textLength="39.2" lengthAdjust="spacingAndGlyphs">1.17155</text>
<text x="331.9" y="19.1" font-size="10.5" fill="#2a2e39" text-anchor="start">L</text>
<text x="338.0" y="19.1" font-size="10.5" fill="#f23645" text-anchor="start" textLength="39.6" lengthAdjust="spacingAndGlyphs">1.16536</text>
<text x="383.0" y="19.1" font-size="10.5" fill="#2a2e39" text-anchor="start">C</text>
<text x="391.0" y="19.1" font-size="10.5" fill="#f23645" text-anchor="start" textLength="39.0" lengthAdjust="spacingAndGlyphs">1.16557</text>
<text x="435.9" y="19.1" font-size="10.5" fill="#131722" text-anchor="start" textLength="13.3" lengthAdjust="spacingAndGlyphs">Vol</text>
<text x="451.5" y="19.1" font-size="10.5" fill="#f23645" text-anchor="start" textLength="40.7" lengthAdjust="spacingAndGlyphs">131.71K</text>
<text x="10.7" y="38.2" font-size="10.5" fill="#131722" text-anchor="start" textLength="63.5" lengthAdjust="spacingAndGlyphs">EMA 50 close</text>
<text x="81.0" y="38.2" font-size="10.5" fill="#2962ff" text-anchor="start" textLength="39.3" lengthAdjust="spacingAndGlyphs">1.16893</text>
<rect x="10" y="45.6" width="21.4" height="16" rx="3" fill="#fff" stroke="#e6e6e8" stroke-width="1"/>
<path d="M17.7 55.2l3-2.9 3 2.9" fill="none" stroke="#131722" stroke-width="1.2"/>
<text x="10.4" y="530.0" font-size="11" fill="#131722" text-anchor="start" textLength="57.8" lengthAdjust="spacingAndGlyphs">RSI 14 close</text>
<text x="74.9" y="530.0" font-size="11" fill="#7e57c2" text-anchor="start" textLength="27.3" lengthAdjust="spacingAndGlyphs">43.36</text>
</svg></body></html>
